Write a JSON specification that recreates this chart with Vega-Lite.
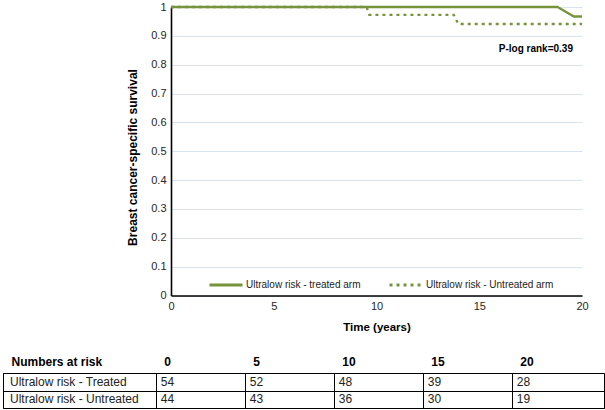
{
  "$schema": "https://vega.github.io/schema/vega-lite/v6.json",
  "padding": {"left": 2, "top": 1, "right": 0, "bottom": 0},
  "spacing": 21,
  "config": {
    "font": "Liberation Sans",
    "view": {"stroke": null},
    "axis": {"labelColor": "#262626", "titleColor": "#000"}
  },
  "datasets": {
    "km": [
      {"arm": "Ultralow risk - treated arm", "t": 0, "s": 1},
      {"arm": "Ultralow risk - treated arm", "t": 18.82, "s": 1},
      {"arm": "Ultralow risk - treated arm", "t": 19.6, "s": 0.967},
      {"arm": "Ultralow risk - treated arm", "t": 20, "s": 0.967},
      {"arm": "Ultralow risk - Untreated arm", "t": 0, "s": 1},
      {"arm": "Ultralow risk - Untreated arm", "t": 9.52, "s": 1},
      {"arm": "Ultralow risk - Untreated arm", "t": 9.65, "s": 0.973},
      {"arm": "Ultralow risk - Untreated arm", "t": 13.76, "s": 0.973},
      {"arm": "Ultralow risk - Untreated arm", "t": 13.98, "s": 0.941},
      {"arm": "Ultralow risk - Untreated arm", "t": 20, "s": 0.941}
    ],
    "risk": [
      {"group": "Ultralow risk - Treated", "time": 0, "n": 54},
      {"group": "Ultralow risk - Treated", "time": 5, "n": 52},
      {"group": "Ultralow risk - Treated", "time": 10, "n": 48},
      {"group": "Ultralow risk - Treated", "time": 15, "n": 39},
      {"group": "Ultralow risk - Treated", "time": 20, "n": 28},
      {"group": "Ultralow risk - Untreated", "time": 0, "n": 44},
      {"group": "Ultralow risk - Untreated", "time": 5, "n": 43},
      {"group": "Ultralow risk - Untreated", "time": 10, "n": 36},
      {"group": "Ultralow risk - Untreated", "time": 15, "n": 30},
      {"group": "Ultralow risk - Untreated", "time": 20, "n": 19}
    ]
  },
  "vconcat": [
    {
      "width": 579,
      "height": 288.5,
      "layer": [
        {
          "data": {"name": "km"},
          "mark": {"type": "line", "color": "#77933c", "strokeWidth": 2.3},
          "encoding": {
            "x": {
              "field": "t", "type": "quantitative",
              "scale": {"domain": [0, 20], "range": [168, 579], "nice": false, "zero": false},
              "axis": {
                "values": [0, 5, 10, 15, 20],
                "title": "Time (years)", "titleFontWeight": "bold", "titleFontSize": 11.5, "titlePadding": 10,
                "labelFontSize": 11, "labelPadding": 5, "labelFlush": false, "labelOverlap": false,
                "ticks": false, "domainColor": "#000", "domainWidth": 1.6, "grid": false
              }
            },
            "y": {
              "field": "s", "type": "quantitative",
              "scale": {"domain": [0, 1], "nice": false},
              "axis": {
                "values": [0, 0.1, 0.2, 0.3, 0.4, 0.5, 0.6, 0.7, 0.8, 0.9, 1],
                "format": "~g",
                "offset": -168,
                "title": "Breast cancer-specific survival", "titleFontWeight": "bold", "titleFontSize": 12,
                "titleX": -32, "titleY": 150,
                "labelFontSize": 11, "labelPadding": 5, "labelOverlap": false,
                "ticks": false, "domainColor": "#000", "domainWidth": 1.6,
                "grid": true, "gridColor": "#d9e3f1", "gridWidth": 1
              }
            },
            "strokeDash": {
              "field": "arm", "type": "nominal",
              "scale": {"domain": ["Ultralow risk - treated arm", "Ultralow risk - Untreated arm"], "range": [[1, 0], [3, 4]]},
              "legend": {
                "orient": "none", "legendX": 205, "legendY": 260, "direction": "horizontal", "title": null,
                "symbolType": "stroke", "symbolSize": 1089, "symbolStrokeWidth": 3, "symbolStrokeColor": "#77933c",
                "labelFontSize": 10, "labelColor": "#222", "labelOffset": 2, "columnPadding": 22
              }
            }
          }
        },
        {
          "data": {"values": [{"label": "P-log rank=0.39"}]},
          "mark": {"type": "text", "align": "right", "baseline": "middle", "fontWeight": "bold", "fontSize": 10, "color": "#000"},
          "encoding": {
            "x": {
              "datum": 19.56, "type": "quantitative",
              "scale": {"domain": [0, 20], "range": [168, 579], "nice": false, "zero": false},
              "axis": {
                "values": [0, 5, 10, 15, 20],
                "title": "Time (years)", "titleFontWeight": "bold", "titleFontSize": 11.5, "titlePadding": 10,
                "labelFontSize": 11, "labelPadding": 5, "labelFlush": false, "labelOverlap": false,
                "ticks": false, "domainColor": "#000", "domainWidth": 1.6, "grid": false
              }
            },
            "y": {
              "datum": 0.856, "type": "quantitative",
              "scale": {"domain": [0, 1], "nice": false},
              "axis": {
                "values": [0, 0.1, 0.2, 0.3, 0.4, 0.5, 0.6, 0.7, 0.8, 0.9, 1],
                "format": "~g",
                "offset": -168,
                "title": "Breast cancer-specific survival", "titleFontWeight": "bold", "titleFontSize": 12,
                "titleX": -32, "titleY": 150,
                "labelFontSize": 11, "labelPadding": 5, "labelOverlap": false,
                "ticks": false, "domainColor": "#000", "domainWidth": 1.6,
                "grid": true, "gridColor": "#d9e3f1", "gridWidth": 1
              }
            },
            "text": {"field": "label"}
          }
        }
      ]
    },
    {
      "width": 601,
      "height": 35,
      "view": {"stroke": "#000", "strokeWidth": 1},
      "data": {"name": "risk"},
      "encoding": {
        "y": {
          "field": "group", "type": "nominal",
          "scale": {"paddingInner": 0, "paddingOuter": 0},
          "axis": {"labels": false, "ticks": false, "domain": false, "title": null, "grid": true, "gridColor": "#000", "gridWidth": 1, "tickBand": "extent", "minExtent": 0}
        }
      },
      "layer": [
        {
          "mark": {"type": "text", "align": "left", "baseline": "middle", "dx": 5, "fontSize": 12, "color": "#222"},
          "encoding": {
            "x": {
              "field": "time", "type": "quantitative",
              "scale": {"domain": [-8.584, 25.18], "nice": false, "zero": false},
              "axis": {
                "orient": "top", "values": [-8.584, 0, 5, 10, 15, 20],
                "labelExpr": "datum.value < -1 ? 'Numbers at risk' : format(datum.value, 'd')",
                "labelAlign": "left", "labelOffset": 8, "labelFontWeight": "bold", "labelFontSize": 12, "labelColor": "#000",
                "labelPadding": 5, "labelFlush": false, "labelOverlap": false,
                "ticks": false, "domain": false, "title": null,
                "grid": true, "gridColor": "#000", "gridWidth": 1
              }
            },
            "text": {"field": "n", "type": "quantitative"}
          }
        },
        {
          "transform": [{"filter": "datum.time == 0"}],
          "mark": {"type": "text", "align": "left", "baseline": "middle", "dx": 7, "fontSize": 12, "color": "#222"},
          "encoding": {
            "x": {"datum": -8.584},
            "text": {"field": "group"}
          }
        }
      ]
    }
  ]
}
